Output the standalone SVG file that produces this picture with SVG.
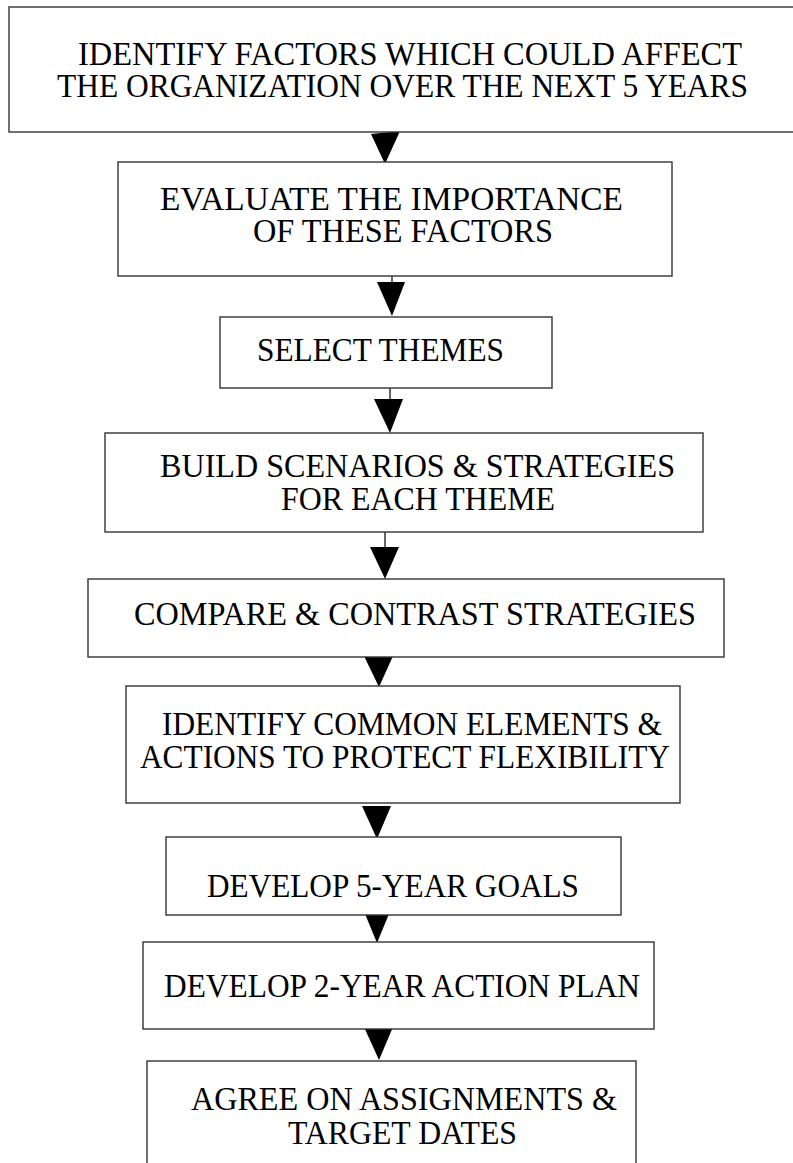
<svg xmlns="http://www.w3.org/2000/svg" width="793" height="1163" viewBox="0 0 793 1163">
  <style>
    .box { fill: #ffffff; stroke: #333333; stroke-width: 1.4; }
    .lbl { font-family: "Liberation Serif", "Times New Roman", serif; font-size: 33px; fill: #000000; }
    .stem { stroke: #000000; stroke-width: 1.2; }
    .head { fill: #000000; }
  </style>
  <rect x="0" y="0" width="793" height="1163" fill="#ffffff"/>

  <!-- connectors: short stems with solid triangular heads -->
  <g id="connectors">
    <polygon class="head" points="371,134 400,131 385,164"/>
    <line class="stem" x1="392" y1="276" x2="392" y2="283"/>
    <polygon class="head" points="377,282 405,282 392,316"/>
    <line class="stem" x1="390" y1="388" x2="390" y2="400"/>
    <polygon class="head" points="374,399 403,399 390,433"/>
    <line class="stem" x1="385" y1="532" x2="385" y2="548"/>
    <polygon class="head" points="370,547 399,547 385,579"/>
    <polygon class="head" points="364,656 393,656 379,687"/>
    <polygon class="head" points="362,806 391,806 377,839"/>
    <polygon class="head" points="363,909 391,909 377,943"/>
    <polygon class="head" points="364,1027 393,1027 379,1060"/>
  </g>

  <g id="n1">
    <rect class="box" x="9" y="7" width="800" height="125"/>
    <text class="lbl" x="78" y="65" textLength="664" lengthAdjust="spacingAndGlyphs">IDENTIFY FACTORS WHICH COULD AFFECT</text>
    <text class="lbl" x="57" y="97" textLength="691" lengthAdjust="spacingAndGlyphs">THE ORGANIZATION OVER THE NEXT 5 YEARS</text>
  </g>

  <g id="n2">
    <rect class="box" x="118" y="162" width="554" height="114"/>
    <text class="lbl" x="160" y="210" textLength="463" lengthAdjust="spacingAndGlyphs">EVALUATE THE IMPORTANCE</text>
    <text class="lbl" x="253" y="242" textLength="300" lengthAdjust="spacingAndGlyphs">OF THESE FACTORS</text>
  </g>

  <g id="n3">
    <rect class="box" x="220" y="317" width="332" height="71"/>
    <text class="lbl" x="257" y="361" textLength="247" lengthAdjust="spacingAndGlyphs">SELECT THEMES</text>
  </g>

  <g id="n4">
    <rect class="box" x="105" y="433" width="598" height="99"/>
    <text class="lbl" x="160" y="477" textLength="515" lengthAdjust="spacingAndGlyphs">BUILD SCENARIOS &amp; STRATEGIES</text>
    <text class="lbl" x="281" y="510" textLength="274" lengthAdjust="spacingAndGlyphs">FOR EACH THEME</text>
  </g>

  <g id="n5">
    <rect class="box" x="88" y="579" width="636" height="78"/>
    <text class="lbl" x="134" y="625" textLength="562" lengthAdjust="spacingAndGlyphs">COMPARE &amp; CONTRAST STRATEGIES</text>
  </g>

  <g id="n6">
    <rect class="box" x="126" y="686" width="554" height="117"/>
    <text class="lbl" x="162" y="735" textLength="500" lengthAdjust="spacingAndGlyphs">IDENTIFY COMMON ELEMENTS &amp;</text>
    <text class="lbl" x="140" y="768" textLength="530" lengthAdjust="spacingAndGlyphs">ACTIONS TO PROTECT FLEXIBILITY</text>
  </g>

  <g id="n7">
    <rect class="box" x="166" y="837" width="455" height="78"/>
    <text class="lbl" x="207" y="897" textLength="372" lengthAdjust="spacingAndGlyphs">DEVELOP 5-YEAR GOALS</text>
  </g>

  <g id="n8">
    <rect class="box" x="143" y="942" width="511" height="87"/>
    <text class="lbl" x="164" y="997" textLength="476" lengthAdjust="spacingAndGlyphs">DEVELOP 2-YEAR ACTION PLAN</text>
  </g>

  <g id="n9">
    <rect class="box" x="147" y="1061" width="489" height="120"/>
    <text class="lbl" x="191" y="1110" textLength="426" lengthAdjust="spacingAndGlyphs">AGREE ON ASSIGNMENTS &amp;</text>
    <text class="lbl" x="288" y="1144" textLength="229" lengthAdjust="spacingAndGlyphs">TARGET DATES</text>
  </g>
</svg>
